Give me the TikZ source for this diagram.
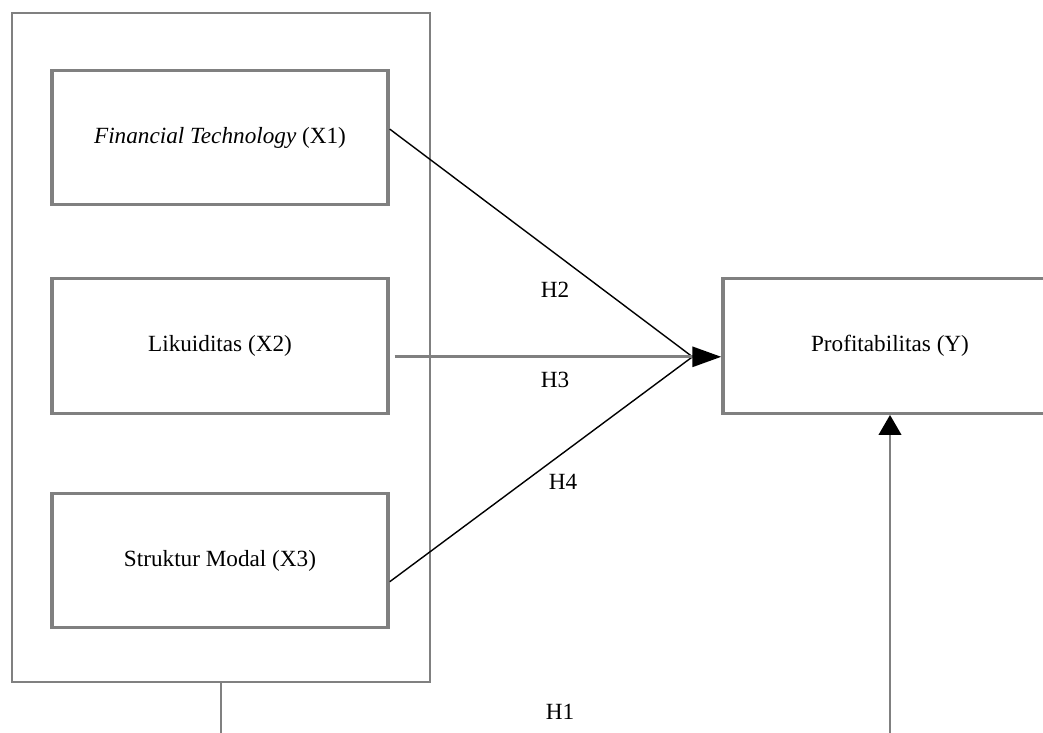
\documentclass[tikz,border=0pt]{standalone}
\usepackage{fontspec}
\setmainfont{Liberation Serif}
\usepackage{tikz}
\usetikzlibrary{arrows.meta}
\definecolor{frame}{HTML}{808080}

\begin{document}
\begin{tikzpicture}[
  x=0.025cm, y=-0.025cm,
  var/.style={rectangle, draw=frame, line width=2.4pt, minimum width=8.4cm,
              minimum height=3.36cm, inner sep=0pt,
              font=\fontsize{16.5}{20}\selectfont},
  group/.style={rectangle, draw=frame, line width=1.9pt, minimum width=10.45cm,
                minimum height=16.72cm, inner sep=0pt},
  path/.style={line width=1pt, black},
  hlabel/.style={font=\fontsize{16.5}{20}\selectfont},
  tip/.style={-{Triangle[length=0.72cm, width=0.5cm, color=black]}},
  uptip/.style={-{Triangle[length=0.5cm, width=0.56cm, color=black]}},
]

\useasboundingbox (0, 0) rectangle (1043, 732);
\clip (0, 0) rectangle (1043, 732);
\fill[white] (0, 0) rectangle (1043, 732);

\node[group] (grp) at (221, 347.5) {};

\node[var] (x1) at (220, 137.5) {\textit{Financial Technology} (X1)};
\node[var] (x2) at (220, 346) {Likuiditas (X2)};
\node[var] (x3) at (220, 560.5) {Struktur Modal (X3)};
\node[var, minimum width=8.35cm] (y) at (890, 346) {Profitabilitas (Y)};

\coordinate (hit) at ([yshift=-0.27cm]y.west);
\coordinate (base) at ([xshift=-0.72cm]hit);

\draw[path] ([yshift=0.21cm]x1.east) -- (base);
\draw[path] ([yshift=-0.53cm]x3.east) -- (base);
\draw[frame, line width=1.9pt, tip] ([xshift=0.12cm, yshift=-0.27cm]x2.east) -- (hit);

% H1: from the group down and round into Y
\draw[frame, line width=1.9pt, uptip] (grp.south) -- ++(0, 120) -| (y.south);

\node[hlabel] (h2) at (555, 290) {H2};
\node[hlabel] (h3) at (555, 380) {H3};
\node[hlabel] (h4) at (563, 482) {H4};
\node[hlabel] (h1) at (560, 712) {H1};

\end{tikzpicture}
\end{document}
